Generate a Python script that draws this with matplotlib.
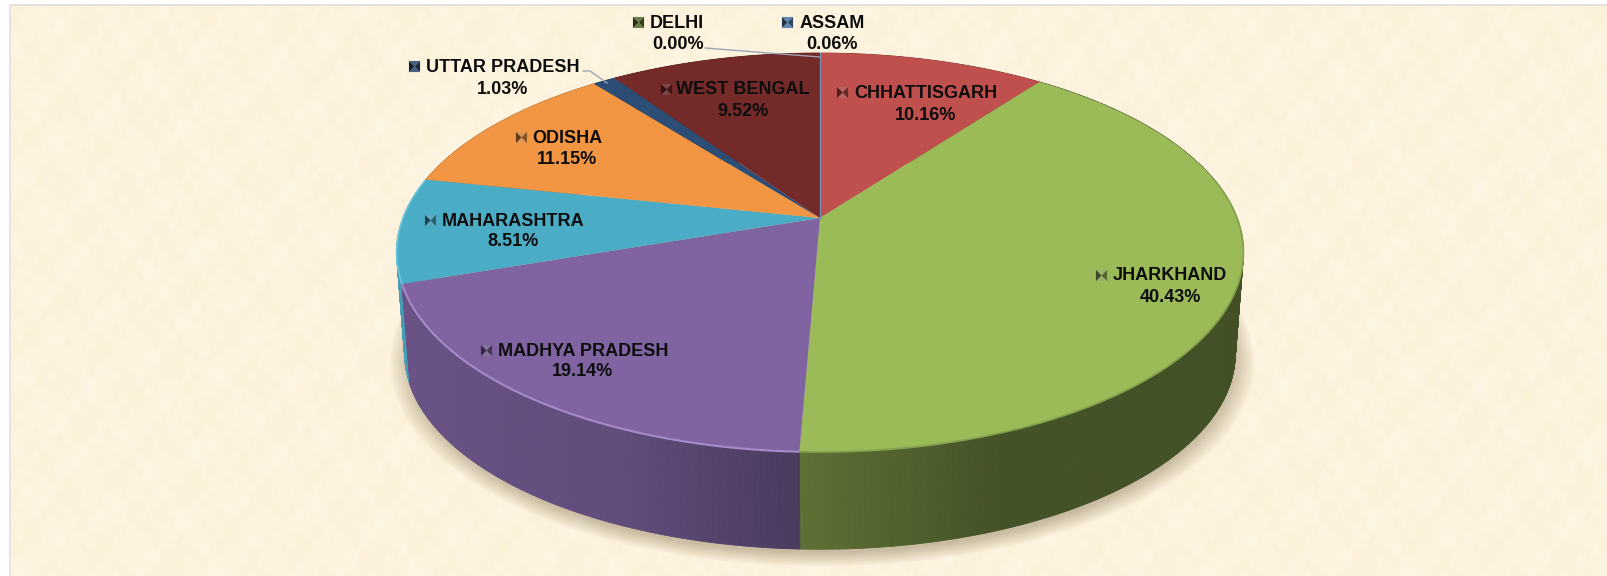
import numpy as np
import matplotlib
matplotlib.use("Agg")
import matplotlib.pyplot as plt
import matplotlib.transforms as mtransforms
from matplotlib.collections import PolyCollection
from matplotlib.patches import Circle, Rectangle
from matplotlib.path import Path
from matplotlib.colors import to_rgb

# ---- data ----
states = ["ASSAM", "CHHATTISGARH", "JHARKHAND", "MADHYA PRADESH", "MAHARASHTRA",
          "ODISHA", "UTTAR PRADESH", "WEST BENGAL", "DELHI"]
shares = [0.06, 10.16, 40.43, 19.14, 8.51, 11.15, 1.03, 9.52, 0.00]
colors = ["#4F81BD", "#BF504D", "#9BBB59", "#8064A2", "#4BACC6",
          "#F39644", "#2C4D75", "#732A28", "#5F7530"]
value_labels = [f"{v:.2f}%" for v in shares]

# label layout in pixels: name centre x, name y, value y, key x
label_pos = {
    "ASSAM": (832, 23.5, 44.5, 787),
    "CHHATTISGARH": (926, 93.5, 115, 842),
    "JHARKHAND": (1170, 276, 297, 1101),
    "MADHYA PRADESH": (583, 351, 372, 486),
    "MAHARASHTRA": (513, 221.5, 241.5, 430),
    "ODISHA": (567, 138.5, 160, 521),
    "UTTAR PRADESH": (503, 67.5, 89.5, 414),
    "WEST BENGAL": (743, 90, 111.5, 666),
    "DELHI": (677, 23.5, 44.5, 638),
}
value_x = {"DELHI": 678}

W, H = 1608, 576
plt.rcParams["font.family"] = ["Liberation Sans", "DejaVu Sans"]
fig = plt.figure(figsize=(W / 100, H / 100), dpi=100, facecolor="white")
ax = fig.add_axes([0, 0, 1, 1])


class Persp(mtransforms.Transform):
    """Projects the unit pie disc onto the tilted disc, in pixels."""
    input_dims = output_dims = 2
    is_separable = False
    has_inverse = False

    def __init__(self, cx, cy, rx, ry, p):
        super().__init__()
        self.a = (cx, cy, rx, ry, p)

    def transform_non_affine(self, xy):
        cx, cy, rx, ry, p = self.a
        xy = np.asarray(xy, float)
        w = 1 + p * xy[:, 1]
        return np.column_stack([cx + rx * xy[:, 0] / w, cy - ry * xy[:, 1] / w])


top = Persp(820, 218, 417, 193.5, 0.173)
low = Persp(820, 320, 409, 189.6, 0.173)
shadow = Persp(822, 326, 409, 189.6, 0.173)

wedges, _ = ax.pie(shares, colors=colors, startangle=90, counterclock=False,
                   wedgeprops=dict(linewidth=0))
ax.set_aspect("auto")
ax.set_frame_on(False)
ax.set_xticks([])
ax.set_yticks([])

# paper background: soft blotches repeating every 200 px
yy, xx = np.mgrid[0:H:2, 0:W:2]
k = 2 * np.pi / 200
waves = [(2, 3, 1.0, 0.5), (3, -2, 2.3, 0.5), (5, 4, 0.4, 0.45), (7, -5, 4.1, 0.4),
         (9, 7, 5.2, 0.35), (11, -3, 1.7, 0.35), (13, 10, 3.3, 0.3), (6, -11, 0.9, 0.3),
         (17, 5, 2.8, 0.25), (19, -13, 4.7, 0.25), (23, 17, 0.2, 0.2), (29, -19, 3.9, 0.2)]
tex = sum(a * np.sin(k * (fx * xx + fy * yy) + ph) for fx, fy, ph, a in waves)
base = np.array([253, 243, 222]) / 255
tint = np.array([-0.001, -0.004, -0.011])
img = np.clip(base[None, None, :] + tex[..., None] * tint[None, None, :], 0, 1)
ax.imshow(img, extent=(11, W, H, 5), aspect="auto", zorder=0, interpolation="bicubic")
ax.set_xlim(0, W)
ax.set_ylim(H, 0)
ax.add_patch(Rectangle((10, 4.5), W, H, fill=False, ec="#DEDEDE", lw=1.2, zorder=0.5))

# soft shadow
for r in np.linspace(1.04, 0.99, 14):
    c = Circle((0, 0), r, fc="#6E5A36", ec="none", alpha=0.028, zorder=1)
    c.set_transform(shadow + ax.transData)
    ax.add_patch(c)

# side wall
wall_stops = {
    "JHARKHAND": ([800, 1000, 1240], [0.60, 0.44, 0.43]),
    "MADHYA PRADESH": ([400, 620, 800], [0.82, 0.76, 0.58]),
    "MAHARASHTRA": ([0, W], [0.92, 0.92]),
}
edges = np.concatenate([[0], np.cumsum(shares)]) / sum(shares) * 2 * np.pi
mids = (edges[:-1] + edges[1:]) / 2
order = np.argsort(-np.cos(mids))
z = 2.0
for i in order:
    if shares[i] <= 0:
        continue
    th = np.linspace(edges[i], edges[i + 1], max(2, int((edges[i + 1] - edges[i]) * 150)))
    uv = np.column_stack([np.sin(th), np.cos(th)])
    p0 = top.transform_non_affine(uv)
    p1 = low.transform_non_affine(uv)
    polys, fcs = [], []
    xs, fs = wall_stops.get(states[i], ([0, W], [0.72, 0.72]))
    for j in range(len(th) - 1):
        polys.append([p0[j], p0[j + 1], p1[j + 1], p1[j]])
        f = np.interp((p0[j, 0] + p0[j + 1, 0]) / 2, xs, fs)
        fcs.append(np.array(to_rgb(colors[i])) * f)
    ax.add_collection(PolyCollection(polys, facecolors=fcs, edgecolors=fcs,
                                     linewidths=0.6, zorder=z))
    z += 0.01

# top face
for w in wedges:
    w.set_transform(top + ax.transData)
    w.set_zorder(3)
    w.set_clip_on(False)

# rims, on the front part of the disc only
rims = {"MADHYA PRADESH": ("#A68BCB", 1.5), "MAHARASHTRA": ("#6CC7DE", 1.2),
        "JHARKHAND": ("#85A24C", 1.3)}
for i, s in enumerate(states):
    if s in rims:
        th = np.linspace(edges[i], edges[i + 1], 200)
        th = th[np.cos(th) < 0.2]
        uv = np.column_stack([np.sin(th), np.cos(th)])
        ax.plot(uv[:, 0], uv[:, 1], color=rims[s][0], lw=rims[s][1],
                transform=top + ax.transData, zorder=3.1, solid_capstyle="butt")
ax.plot([0, 0], [0, 1], color="#6F8FB8", lw=1.0, transform=top + ax.transData, zorder=3.2)

# leader lines
leaders = [([705, 820], [48, 57]), ([583, 590, 607], [71, 71, 83])]
for lx, ly in leaders:
    ax.plot(lx, ly, color="#9AA6B4", lw=1.0, zorder=3.3)

# legend keys and labels
tri_l = Path([(-1, -1), (0, 0), (-1, 1), (-1, -1)])
tri_r = Path([(1, -1), (0, 0), (1, 1), (1, -1)])
tri_t = Path([(-1, 1), (0, 0), (1, 1), (-1, 1)])
tri_b = Path([(-1, -1), (0, 0), (1, -1), (-1, -1)])
for i, s in enumerate(states):
    nx, ny, vy, kx = label_pos[s]
    c = np.array(to_rgb(colors[i]))
    for path, col in ((tri_t, c * 0.75 + 0.15), (tri_b, c * 0.75 + 0.15),
                      (tri_l, c * 0.4), (tri_r, c * 0.55)):
        ax.plot([kx], [ny - 1.5], marker=path, ms=8, mfc=col, mec="none", zorder=4, ls="none")
    ax.text(nx, ny, s, ha="center", va="center", fontsize=13, fontweight="bold",
            color="#0D0D0D", zorder=5)
    ax.text(value_x.get(s, nx), vy, value_labels[i], ha="center", va="center",
            fontsize=13, fontweight="bold", color="#0D0D0D", zorder=5)

fig.savefig("out.png", dpi=100)
